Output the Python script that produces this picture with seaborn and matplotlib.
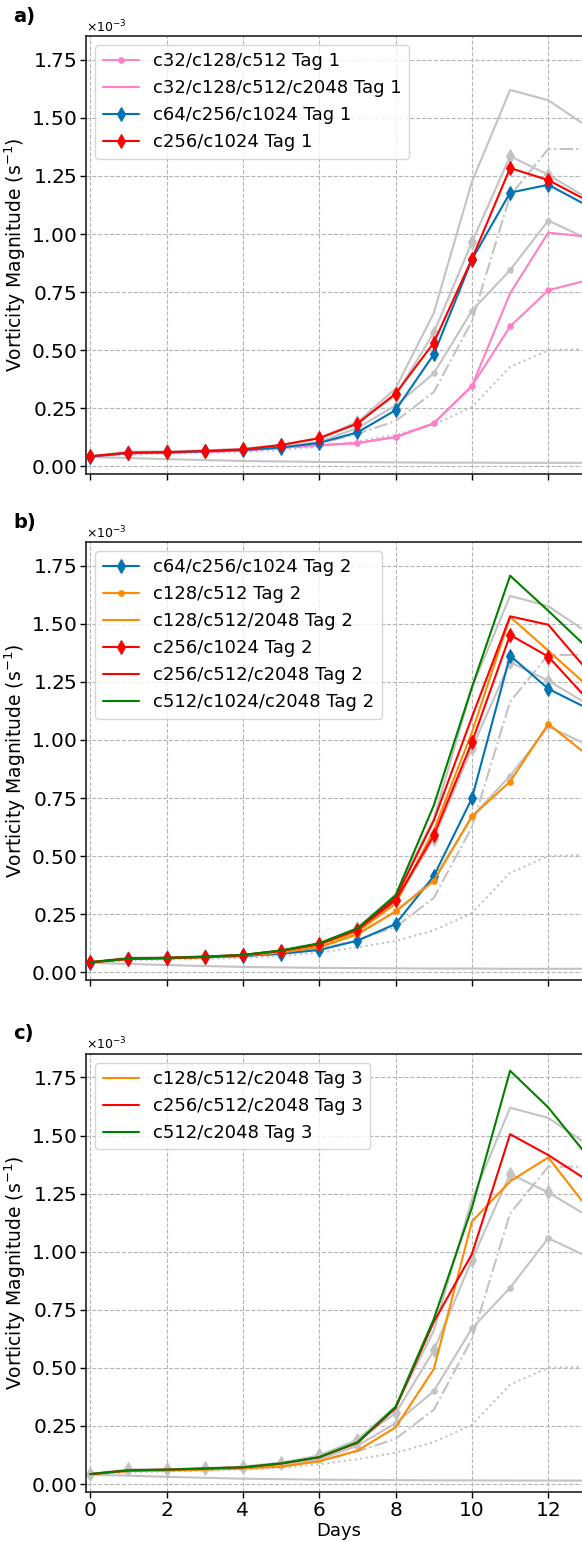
import numpy as np
import matplotlib
matplotlib.use("Agg")
import matplotlib.pyplot as plt
import seaborn as sns

# ---------------------------------------------------------------------------
# Data: vorticity magnitude in units of 1e-3 s^-1, one value per day
# ---------------------------------------------------------------------------
days = list(range(14))
UNIT = 1e-3

# reference runs, drawn in grey on every panel
ref_top = [0.042, 0.060, 0.063, 0.068, 0.075, 0.092, 0.122, 0.190, 0.335, 0.660, 1.225, 1.620, 1.576, 1.465]
ref_diamond = [0.044, 0.063, 0.064, 0.068, 0.075, 0.090, 0.123, 0.190, 0.305, 0.575, 0.965, 1.335, 1.255, 1.157]
ref_dot = [0.040, 0.058, 0.060, 0.064, 0.070, 0.082, 0.105, 0.165, 0.262, 0.400, 0.670, 0.845, 1.058, 0.981]
ref_dashdot = [0.040, 0.057, 0.060, 0.063, 0.068, 0.078, 0.098, 0.140, 0.195, 0.320, 0.625, 1.165, 1.366, 1.366]
ref_dotted = [0.040, 0.050, 0.055, 0.058, 0.062, 0.070, 0.085, 0.107, 0.135, 0.180, 0.255, 0.428, 0.500, 0.505]
ref_flat = [0.040, 0.036, 0.031, 0.027, 0.023, 0.021, 0.019, 0.018, 0.017, 0.016, 0.016, 0.015, 0.015, 0.015]

# panel a: Tag 1
a_c32_c512 = [0.042, 0.056, 0.059, 0.063, 0.068, 0.080, 0.091, 0.100, 0.126, 0.185, 0.346, 0.602, 0.758, 0.800]
a_c32_c2048 = [0.042, 0.056, 0.059, 0.063, 0.068, 0.080, 0.091, 0.100, 0.126, 0.185, 0.346, 0.745, 1.006, 0.989]
a_c64_c1024 = [0.042, 0.058, 0.060, 0.065, 0.070, 0.081, 0.101, 0.146, 0.242, 0.482, 0.890, 1.178, 1.212, 1.124]
a_c256_c1024 = [0.043, 0.059, 0.061, 0.066, 0.073, 0.092, 0.121, 0.184, 0.313, 0.532, 0.893, 1.284, 1.232, 1.146]

# panel b: Tag 2
b_c64_c1024 = [0.042, 0.058, 0.060, 0.065, 0.070, 0.080, 0.096, 0.136, 0.208, 0.414, 0.749, 1.363, 1.220, 1.138]
b_c128_c512 = [0.042, 0.058, 0.060, 0.065, 0.071, 0.085, 0.108, 0.163, 0.262, 0.393, 0.671, 0.821, 1.069, 0.938]
b_c128_2048 = [0.042, 0.058, 0.061, 0.066, 0.072, 0.090, 0.118, 0.175, 0.295, 0.610, 1.033, 1.530, 1.384, 1.237]
b_c256_c1024 = [0.043, 0.059, 0.061, 0.066, 0.073, 0.092, 0.121, 0.183, 0.310, 0.589, 0.990, 1.452, 1.359, 1.180]
b_c256_c2048 = [0.043, 0.059, 0.062, 0.067, 0.074, 0.093, 0.123, 0.186, 0.320, 0.653, 1.098, 1.532, 1.496, 1.304]
b_c512_c2048 = [0.043, 0.059, 0.062, 0.067, 0.075, 0.094, 0.125, 0.189, 0.331, 0.718, 1.227, 1.707, 1.556, 1.400]

# panel c: Tag 3
c_c128_c2048 = [0.042, 0.056, 0.058, 0.062, 0.067, 0.075, 0.098, 0.144, 0.244, 0.495, 1.130, 1.303, 1.406, 1.194]
c_c256_c2048 = [0.043, 0.059, 0.062, 0.067, 0.072, 0.088, 0.115, 0.177, 0.327, 0.698, 0.990, 1.506, 1.416, 1.310]
c_c512_c2048 = [0.043, 0.059, 0.062, 0.067, 0.072, 0.089, 0.116, 0.180, 0.332, 0.710, 1.190, 1.779, 1.621, 1.418]

y_ticks = [0.00, 0.25, 0.50, 0.75, 1.00, 1.25, 1.50, 1.75]
x_ticks = [0, 2, 4, 6, 8, 10, 12]

# ---------------------------------------------------------------------------
# Styling
# ---------------------------------------------------------------------------
GREY = "#c3c3c3"
PINK = "#ff7fc8"
BLUE = "#0173b2"
ORANGE = "#ff8a00"
RED = "#ff0000"
GREEN = "#008000"

sns.set_style("ticks", {
    "axes.grid": True,
    "grid.linestyle": "--",
    "grid.color": "#b5b5b5",
    "axes.edgecolor": "#222222",
    "axes.labelcolor": "black",
    "text.color": "black",
    "xtick.color": "black",
    "ytick.color": "black",
})
plt.rcParams["font.family"] = ["DejaVu Sans"]
plt.rcParams["grid.linewidth"] = 0.8
plt.rcParams["mathtext.default"] = "regular"

fig = plt.figure(figsize=(5.82, 15.42), dpi=100)

LEFT, WIDTH, HEIGHT = 0.1485, 0.8657, 0.2840
bottoms = [0.6926, 0.3645, 0.0326]

reference_runs = [
    (ref_flat, {}),
    (ref_dotted, {"linestyle": ":"}),
    (ref_dashdot, {"linestyle": "-."}),
    (ref_dot, {"marker": "o", "markersize": 4}),
    (ref_diamond, {"marker": "d", "markersize": 7}),
    (ref_top, {}),
]

panels = [
    ("a)", [
        (a_c32_c512, PINK, "o", 4, "c32/c128/c512 Tag 1"),
        (a_c32_c2048, PINK, None, 0, "c32/c128/c512/c2048 Tag 1"),
        (a_c64_c1024, BLUE, "d", 7.5, "c64/c256/c1024 Tag 1"),
        (a_c256_c1024, RED, "d", 7.5, "c256/c1024 Tag 1"),
    ]),
    ("b)", [
        (b_c64_c1024, BLUE, "d", 7.5, "c64/c256/c1024 Tag 2"),
        (b_c128_c512, ORANGE, "o", 4, "c128/c512 Tag 2"),
        (b_c128_2048, ORANGE, None, 0, "c128/c512/2048 Tag 2"),
        (b_c256_c1024, RED, "d", 7.5, "c256/c1024 Tag 2"),
        (b_c256_c2048, RED, None, 0, "c256/c512/c2048 Tag 2"),
        (b_c512_c2048, GREEN, None, 0, "c512/c1024/c2048 Tag 2"),
    ]),
    ("c)", [
        (c_c128_c2048, ORANGE, None, 0, "c128/c512/c2048 Tag 3"),
        (c_c256_c2048, RED, None, 0, "c256/c512/c2048 Tag 3"),
        (c_c512_c2048, GREEN, None, 0, "c512/c2048 Tag 3"),
    ]),
]

for i, (letter, series) in enumerate(panels):
    ax = fig.add_axes([LEFT, bottoms[i], WIDTH, HEIGHT])

    for vals, kw in reference_runs:
        kw = dict(kw)
        if "marker" in kw:
            kw["markeredgecolor"] = GREY
        sns.lineplot(x=days, y=np.array(vals) * UNIT, ax=ax, color=GREY,
                     linewidth=1.5, legend=False, zorder=1, **kw)

    for vals, color, marker, ms, label in series:
        kw = {}
        if marker is not None:
            kw = {"marker": marker, "markersize": ms, "markeredgecolor": color,
                  "markerfacecolor": color}
        sns.lineplot(x=days, y=np.array(vals) * UNIT, ax=ax, color=color,
                     linewidth=1.5, label=label, zorder=3, **kw)

    ax.set_xlim(-0.1, 13.1)
    ax.set_ylim(-0.033 * UNIT, 1.852 * UNIT)
    ax.set_xticks(x_ticks)
    ax.set_yticks(np.array(y_ticks) * UNIT)
    ax.ticklabel_format(axis="y", style="sci", scilimits=(0, 0), useMathText=True)
    ax.yaxis.get_offset_text().set_fontsize(9)
    ax.tick_params(axis="both", labelsize=14.5, length=4, width=1, pad=3,
                   colors="black")
    ax.set_ylabel("Vorticity Magnitude (s$^{-1}$)", fontsize=13.5, labelpad=2,
                  color="black")

    if i < 2:
        ax.tick_params(axis="x", labelbottom=False)
        ax.set_xlabel("")
    else:
        ax.set_xlabel("Days", fontsize=13, labelpad=1, color="black")

    for side in ["left", "bottom", "top", "right"]:
        ax.spines[side].set_linewidth(1.2)

    leg = ax.legend(loc="upper left", fontsize=13, frameon=True)
    for t in leg.get_texts():
        t.set_color("black")

    top_px = (1 - (bottoms[i] + HEIGHT)) * 1542
    fig.text(13 / 582, 1 - (top_px - 20) / 1542, letter, fontsize=14,
             fontweight="bold", va="center", ha="left", color="black")

fig.savefig("out.png", dpi=100)
